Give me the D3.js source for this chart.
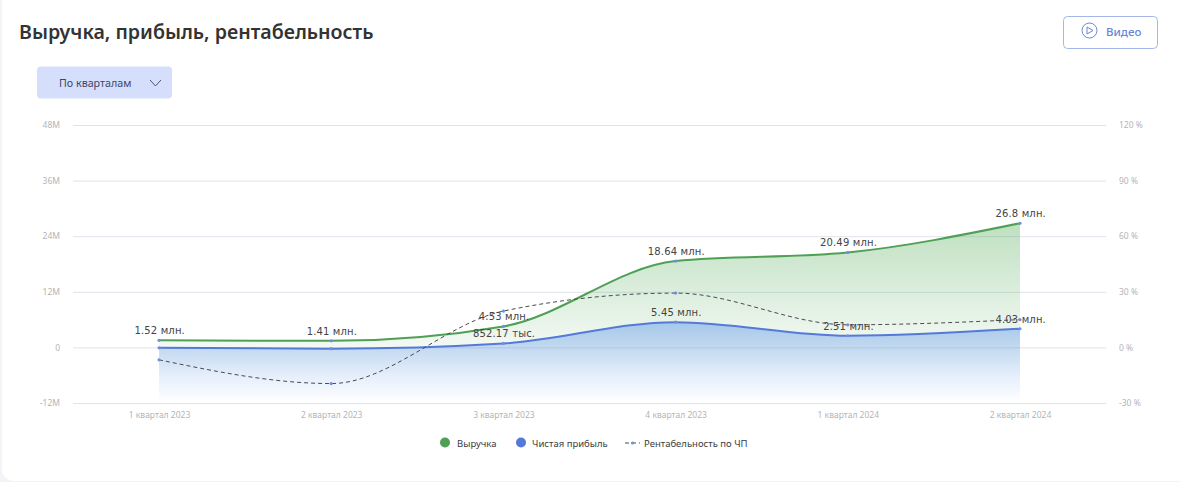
<!DOCTYPE html>
<html>
<head>
<meta charset="utf-8">
<script src="https://cdn.jsdelivr.net/npm/d3@7"></script>
<style>
    html, body { margin: 0; padding: 0; background: #f4f4f8; }
    #chart { display: block; }
    .ui { font-family: "Noto Sans", sans-serif; }
</style>
</head>
<body>
<svg id="chart" width="1180" height="482"></svg>
<script>
var quarters = ["1 квартал 2023", "2 квартал 2023", "3 квартал 2023", "4 квартал 2023", "1 квартал 2024", "2 квартал 2024"];
var revenue = [1.52, 1.41, 4.53, 18.64, 20.49, 26.8];
var profit = [-0.1, -0.27, 0.85, 5.45, 2.51, 4.03];
var margin = [-6.7, -19.5, 19.6, 29.3, 12.2, 15];
var revenueLabels = ["1.52 млн.", "1.41 млн.", "4.53 млн.", "18.64 млн.", "20.49 млн.", "26.8 млн."];
var profitLabels = ["", "", "852.17 тыс.", "5.45 млн.", "2.51 млн.", "4.03 млн."];
var leftTicks = [-12, 0, 12, 24, 36, 48];
var rightTicks = [-30, 0, 30, 60, 90, 120];

var GREEN = "#4f9f55", BLUE = "#5579d8", DOT = "#6f8fe0";

var svg = d3.select("#chart");

// card
svg.append("rect").attr("x", 2).attr("y", -10).attr("width", 1200).attr("height", 491)
    .attr("rx", 12).attr("fill", "#fff");

var x = d3.scalePoint().domain(quarters).range([159, 1020]);
var y = d3.scaleLinear().domain([-12, 48]).range([403, 125]);
var yMargin = d3.scaleLinear().domain([-30, 120]).range([403, 125]);

var defs = svg.append("defs");
var addGradient = function(id, color, top, bottom, topOpacity) {
    var g = defs.append("linearGradient").attr("id", id)
        .attr("gradientUnits", "userSpaceOnUse")
        .attr("x1", 0).attr("x2", 0).attr("y1", top).attr("y2", bottom);
    g.append("stop").attr("offset", 0).attr("stop-color", color).attr("stop-opacity", topOpacity);
    g.append("stop").attr("offset", 1).attr("stop-color", color).attr("stop-opacity", 0);
};
addGradient("fillRevenue", "#55ad5a", y(26.8), y(-6), 0.38);
addGradient("fillProfit", "#4a8ae8", y(5.45), y(-12), 0.42);

// grid + axes
var leftAxis = d3.axisLeft(y).tickValues(leftTicks).tickFormat(function(d) { return d === 0 ? "0" : d + "M"; })
    .tickSize(0).tickPadding(0);
var rightAxis = d3.axisRight(yMargin).tickValues(rightTicks).tickFormat(function(d) { return d + " %"; })
    .tickSize(0).tickPadding(0);
var bottomAxis = d3.axisBottom(x).tickSize(0).tickPadding(9);

svg.append("g").selectAll("line").data(leftTicks).enter().append("line")
    .attr("x1", 73).attr("x2", 1106)
    .attr("y1", function(d) { return y(d) + 0.5; }).attr("y2", function(d) { return y(d) + 0.5; })
    .attr("stroke", "#e2e2ec").attr("stroke-width", 1);

var styleAxis = function(g, size) {
    g.select(".domain").remove();
    g.selectAll("text").attr("fill", "#b4b4b8").style("font-family", "'Noto Sans', sans-serif").style("font-size", size);
};
svg.append("g").attr("transform", "translate(60,0)").call(leftAxis).call(styleAxis, "8.5px");
svg.append("g").attr("transform", "translate(1119,0)").call(rightAxis).call(styleAxis, "8.5px");
svg.append("g").attr("transform", "translate(0,403)").call(bottomAxis).call(styleAxis, "8.5px");

// series
var curve = d3.curveMonotoneX;
var area = function(values) {
    return d3.area().x(function(d, i) { return x(quarters[i]); })
        .y0(y(-12)).y1(function(d) { return y(d); }).curve(curve)(values);
};
var line = function(values, scale) {
    return d3.line().x(function(d, i) { return x(quarters[i]); })
        .y(function(d) { return scale(d); }).curve(curve)(values);
};

svg.append("path").attr("d", area(revenue)).attr("fill", "url(#fillRevenue)");
svg.append("path").attr("d", area(profit)).attr("fill", "url(#fillProfit)");
svg.append("path").attr("d", line(revenue, y)).attr("fill", "none").attr("stroke", GREEN).attr("stroke-width", 2);
svg.append("path").attr("d", line(profit, y)).attr("fill", "none").attr("stroke", BLUE).attr("stroke-width", 2);
svg.append("path").attr("d", line(margin, yMargin)).attr("fill", "none")
    .attr("stroke", "#4a4a50").attr("stroke-width", 1).attr("stroke-dasharray", "4,3");

var dots = function(values, scale) {
    svg.append("g").selectAll("circle").data(values).enter().append("circle")
        .attr("cx", function(d, i) { return x(quarters[i]); })
        .attr("cy", function(d) { return scale(d); })
        .attr("r", 1.6).attr("fill", DOT);
};
dots(revenue, y);
dots(profit, y);
dots(margin, yMargin);

var labels = function(texts, values) {
    svg.append("g").selectAll("text").data(texts).enter().append("text")
        .attr("x", function(d, i) { return x(quarters[i]) + 0.7; })
        .attr("y", function(d, i) { return y(values[i]) - 6; })
        .attr("text-anchor", "middle")
        .attr("fill", "#444")
        .style("font-family", "'DejaVu Sans', sans-serif").style("font-size", "10px").style("letter-spacing", "0.15px")
        .text(function(d) { return d; });
};
labels(revenueLabels, revenue);
labels(profitLabels, profit);

// title and buttons
svg.append("text").attr("class", "ui").attr("x", 19).attr("y", 39)
    .attr("fill", "#333").style("font-size", "19.6px").style("font-weight", 600).text("Выручка, прибыль, рентабельность");

svg.append("rect").attr("x", 37).attr("y", 66.5).attr("width", 135).attr("height", 32).attr("rx", 4).attr("fill", "#d5dffb");
svg.append("text").attr("class", "ui").attr("x", 59).attr("y", 86.5)
    .attr("fill", "#3d4668").style("font-size", "10.7px").text("По кварталам");
svg.append("path").attr("d", "M150,80 L155.5,86 L161,80").attr("fill", "none").attr("stroke", "#4a5478").attr("stroke-width", 1);

svg.append("rect").attr("x", 1063.5).attr("y", 16.5).attr("width", 94).attr("height", 32).attr("rx", 4)
    .attr("fill", "#fff").attr("stroke", "#a5b5e8");
svg.append("circle").attr("cx", 1089.5).attr("cy", 30.5).attr("r", 7.5).attr("fill", "none").attr("stroke", "#6b85d6").attr("stroke-width", 1);
svg.append("path").attr("d", "M1087,27 L1093,30.5 L1087,34 Z").attr("fill", "none").attr("stroke", "#6b85d6").attr("stroke-width", 1);
svg.append("text").attr("class", "ui").attr("x", 1106).attr("y", 36)
    .attr("fill", "#6b85d6").style("font-size", "11.5px").style("font-weight", 500).text("Видео");

// legend
var legend = svg.append("g");
legend.append("circle").attr("cx", 445).attr("cy", 442.5).attr("r", 5).attr("fill", GREEN);
legend.append("circle").attr("cx", 521).attr("cy", 442.5).attr("r", 5).attr("fill", BLUE);
legend.append("line").attr("x1", 625).attr("x2", 640).attr("y1", 443).attr("y2", 443)
    .attr("stroke", "#4a4a50").attr("stroke-dasharray", "4,3");
legend.append("circle").attr("cx", 632.5).attr("cy", 443).attr("r", 1.6).attr("fill", DOT);
[["Выручка", 457], ["Чистая прибыль", 532], ["Рентабельность по ЧП", 644]].forEach(function(item) {
    legend.append("text").attr("class", "ui").attr("x", item[1]).attr("y", 447)
        .attr("fill", "#3c3c40").style("font-size", "9.5px").text(item[0]);
});
</script>
</body>
</html>
